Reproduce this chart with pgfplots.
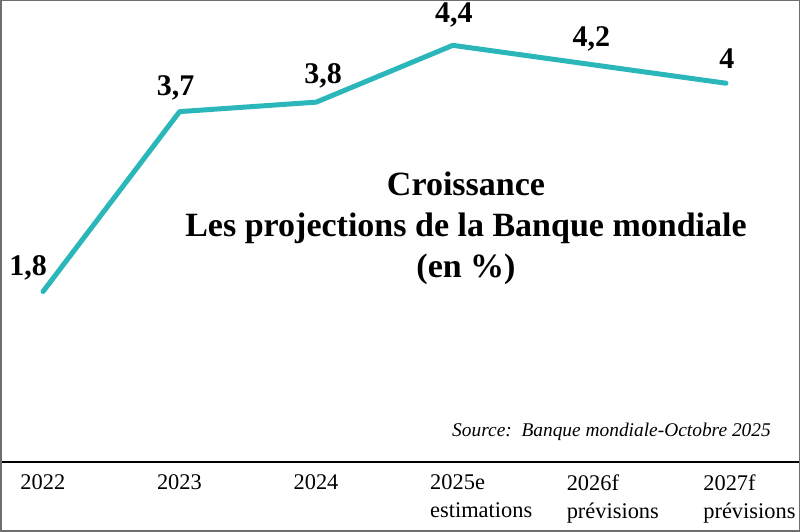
\documentclass[border=0pt]{standalone}
\usepackage{pgfplots}
\pgfplotsset{compat=1.18}
\usepackage{fontspec}
\setmainfont{Liberation Serif}
\definecolor{teal1}{RGB}{43,183,186}
\definecolor{frame}{RGB}{110,110,110}
\begin{document}
\begin{tikzpicture}
\begin{axis}[
  width=400pt, height=231pt, scale only axis,
  xmin=-0.315, xmax=5.542,
  ymin=0, ymax=4.879,
  axis x line*=bottom,
  axis y line=none,
  x axis line style={line width=1pt, black},
  xtick={0,1,2,3,4,5},
  xticklabels={2022,2023,2024,{2025e\\estimations},{2026f\\prévisions},{2027f\\prévisions}},
  major tick length=0pt,
  xticklabel style={anchor=north west, xshift=-11.5pt, yshift=-6pt, align=left,
    inner sep=0pt, font=\fontsize{11.2}{14}\selectfont},
  clip=false,
  nodes near coords,
  point meta=explicit,
  /pgf/number format/.cd, use comma, assume math mode=true, /pgfplots/.cd,
  visualization depends on={\thisrow{dx} \as \dx},
  visualization depends on={\thisrow{dy} \as \dy},
  nodes near coords style={anchor=center, xshift=\dx pt, yshift=\dy pt, text=black,
    font=\bfseries\fontsize{15}{15}\selectfont, inner sep=0pt},
]
\coordinate (fsw) at (rel axis cs:0,-0.1494);
\coordinate (fne) at (rel axis cs:1,1);
\draw[frame, line width=1.5pt] (fsw) rectangle (fne);
\addplot[color=teal1, line width=2.5pt, line join=round, line cap=round, mark=none]
  table[x=x, y=y, meta=y] {
x y dx dy
0 1.8 -7.5 12
1 3.7 -2 12
2 3.8 3.5 13
3 4.4 0.5 15
4 4.2 1 12.5
5 4.0 0.5 12.5
};
\node[align=center, font=\bfseries\fontsize{17}{20.5}\selectfont]
  at (rel axis cs:0.5825,0.5065) {Croissance\\Les projections de la Banque mondiale\\(en \%)};
\node[anchor=east, inner sep=0pt, font=\itshape\fontsize{9.7}{12}\selectfont]
  at (rel axis cs:0.964,0.065) {Source:\ \ Banque mondiale-Octobre 2025};
\end{axis}
\pgfresetboundingbox
\path[use as bounding box] (fsw) rectangle (fne);
\end{tikzpicture}
\end{document}
